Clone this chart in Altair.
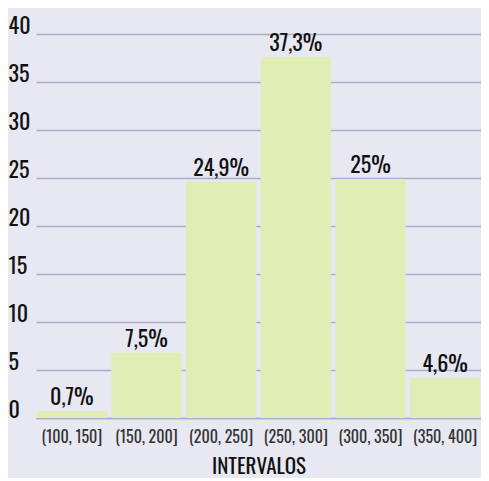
import altair as alt
import pandas as pd

categories = ["(100, 150]", "(150, 200]", "(200, 250]", "(250, 300]", "(300, 350]", "(350, 400]"]
values = [0.7, 6.8, 24.6, 37.6, 24.9, 4.2]
labels = ["0,7%", "7,5%", "24,9%", "37,3%", "25%", "4,6%"]

df = pd.DataFrame({"cat": categories, "val": values, "lab": labels})

FONT = "Oswald"
BG = "#e8e8f2"
GRID = "#a9aed0"

x = alt.X("cat:N", sort=categories,
          scale=alt.Scale(paddingInner=0.06, paddingOuter=0.01),
          axis=alt.Axis(title="INTERVALOS", labelAngle=0, domain=True, domainColor=GRID,
                        domainWidth=1.5, ticks=False, labelPadding=11, labelFontSize=16,
                        labelColor="#333333", labelFont=FONT, labelFontWeight="normal",
                        titleFont=FONT, titleFontSize=21, titleFontWeight="normal",
                        titleColor="#111111", titleBaseline="alphabetic", titlePadding=28,
                        grid=False))
y = alt.Y("val:Q", scale=alt.Scale(domain=[0, 40]),
          axis=alt.Axis(title=None, values=[0, 5, 10, 15, 20, 25, 30, 35, 40], domain=False,
                        ticks=False, grid=True, gridColor=GRID, gridWidth=1.5,
                        labelAlign="left", labelBaseline="alphabetic", labelOffset=-1,
                        labelPadding=28, labelFont=FONT, labelFontSize=22,
                        labelFontWeight="normal", labelColor="#111111"))

bars = alt.Chart(df).mark_bar(color="#e0edb4").encode(x=x, y=y)
text = alt.Chart(df).mark_text(baseline="alphabetic", dy=-6, font=FONT, fontSize=22,
                               fontWeight="normal", color="#111111").encode(
    x=alt.X("cat:N", sort=categories), y="val:Q", text="lab:N")

chart = (bars + text).properties(
    width=445, height=384, background=BG,
    autosize=alt.AutoSizeParams(type="none"),
    padding={"left": 28, "top": 26, "right": 0, "bottom": 60},
).configure_view(stroke=None)

chart.save("out.html", embed_options={"renderer": "svg", "actions": False})
